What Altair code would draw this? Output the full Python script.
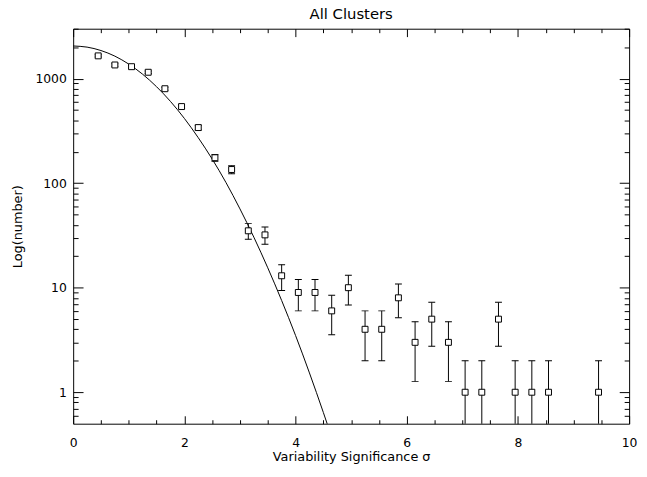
import altair as alt
import pandas as pd

# ---- data ----
sigma = [0.45, 0.75, 1.05, 1.35, 1.65, 1.95, 2.25, 2.55, 2.85, 3.15, 3.45, 3.75,
         4.05, 4.35, 4.65, 4.95, 5.25, 5.55, 5.85, 6.15, 6.45, 6.75, 7.05, 7.35,
         7.65, 7.95, 8.25, 8.55, 9.45]
counts = [1650, 1350, 1300, 1150, 800, 540, 340, 175, 135, 35, 32, 13,
          9, 9, 6, 10, 4, 4, 8, 3, 5, 3, 1, 1,
          5, 1, 1, 1, 1]
err_lo = [1609, 1313, 1264, 1116, 772, 517, 322, 162, 123, 29, 26, 9.4,
          6, 6, 3.55, 6.84, 2, 2, 5.17, 1.27, 2.76, 1.27, 0.3, 0.3,
          2.76, 0.3, 0.3, 0.3, 0.3]
err_hi = [1691, 1387, 1336, 1184, 828, 563, 358, 188, 147, 41, 38, 16.6,
          12, 12, 8.45, 13.16, 6, 6, 10.83, 4.73, 7.24, 4.73, 2, 2,
          7.24, 2, 2, 2, 2]

curve_x = [0.0, 0.25, 0.5, 0.75, 1.0, 1.25, 1.5, 1.75, 2.0, 2.25, 2.5, 2.75,
           3.0, 3.25, 3.5, 3.75, 4.0, 4.25, 4.5, 4.6]
curve_y = [2050, 2000, 1855, 1640, 1376, 1100, 836, 605, 416, 272, 170, 101,
           56.7, 30.4, 15.5, 7.54, 3.49, 1.53, 0.64, 0.446]

x_major = [0, 2, 4, 6, 8, 10]
x_minor = [0.5, 1, 1.5, 2.5, 3, 3.5, 4.5, 5, 5.5, 6.5, 7, 7.5, 8.5, 9, 9.5]
y_major = [1, 10, 100, 1000]
y_minor = [0.6, 0.7, 0.8, 0.9, 2, 3, 4, 5, 6, 7, 8, 9,
           20, 30, 40, 50, 60, 70, 80, 90,
           200, 300, 400, 500, 600, 700, 800, 900, 2000, 3000]

pts = pd.DataFrame({"sigma": sigma, "count": counts, "lo": err_lo, "hi": err_hi})
crv = pd.DataFrame({"x": curve_x, "y": curve_y})

xs = alt.Scale(domain=[0, 10], nice=False, zero=False)
ys = alt.Scale(type="log", domain=[0.5, 3000], nice=False)

FONT = "DejaVu Sans"


def ax(orient, values, size, **kw):
    opts = dict(orient=orient, values=values, tickSize=size, offset=-size,
                domain=False, grid=False, ticks=True, tickColor="black",
                tickWidth=1, labelFlush=False, labelOverlap=False,
                labelFont=FONT, labelFontSize=12.5, labelColor="black",
                titleFont=FONT, titleFontSize=13, titleColor="black",
                titleFontWeight="normal")
    opts.update(kw)
    if "labels" not in opts:
        opts["labels"] = False
    if "title" not in opts:
        opts["title"] = None
    return alt.Axis(**opts)


bars = alt.Chart(pts).mark_rule(color="black", strokeWidth=1, clip=True).encode(
    x=alt.X("sigma:Q", scale=xs,
            axis=ax("bottom", x_major, 8, labels=True,
                    title="Variability Significance σ",
                    labelPadding=13, titlePadding=2, format="d")),
    y=alt.Y("lo:Q", scale=ys,
            axis=ax("left", y_major, 10, labels=True, title="Log(number)",
                    labelPadding=7, titlePadding=11, format="d")),
    y2="hi:Q",
)

caps_hi = alt.Chart(pts).mark_tick(orient="horizontal", size=7, thickness=1,
                                   color="black", opacity=1, clip=True).encode(
    x=alt.X("sigma:Q", scale=xs, axis=ax("bottom", x_minor, 4)),
    y=alt.Y("hi:Q", scale=ys, axis=ax("left", y_minor, 5)),
)

caps_lo = alt.Chart(pts).mark_tick(orient="horizontal", size=7, thickness=1,
                                   color="black", opacity=1, clip=True).encode(
    x=alt.X("sigma:Q", scale=xs, axis=ax("top", x_major, 8)),
    y=alt.Y("lo:Q", scale=ys, axis=ax("right", y_major, 10)),
)

points = alt.Chart(pts).mark_point(shape="square", size=36, filled=True,
                                   fill="white", stroke="black", strokeWidth=1,
                                   opacity=1).encode(
    x=alt.X("sigma:Q", scale=xs, axis=ax("top", x_minor, 4)),
    y=alt.Y("count:Q", scale=ys, axis=ax("right", y_minor, 5)),
)

curve = alt.Chart(crv).mark_line(color="black", strokeWidth=1, clip=True,
                                 interpolate="monotone").encode(
    x=alt.X("x:Q", scale=xs, axis=None),
    y=alt.Y("y:Q", scale=ys, axis=None),
)

chart = alt.layer(curve, bars, caps_hi, caps_lo, points).resolve_axis(
    x="independent", y="independent"
).properties(
    width=563, height=400,
    background="white",
    title=alt.TitleParams("All Clusters", anchor="middle", baseline="alphabetic",
                          offset={"expr": "-6"}, font=FONT, fontSize=15,
                          fontWeight="normal", color="black"),
    autosize=alt.AutoSizeParams(type="none"),
    padding={"left": 66, "top": 18, "right": 10, "bottom": 51},
).configure_view(
    stroke="black", strokeWidth=1
).configure_axis(
    labelFont=FONT, labelFontSize=12.5, labelColor="black",
    titleFont=FONT, titleFontSize=13, titleColor="black", titleFontWeight="normal",
)

chart.save("out.html", embed_options={"renderer": "svg", "actions": False})
